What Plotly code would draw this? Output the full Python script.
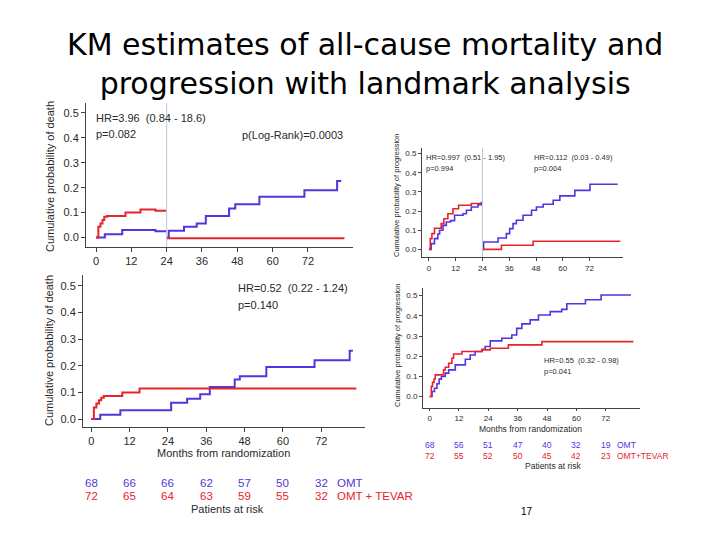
import plotly.graph_objects as go

W, H = 720, 540
BLUE = "#5533e0"
RED = "#e8232b"
AX = "#444444"

# ---------------- data ----------------
months_ticks = [0, 12, 24, 36, 48, 60, 72]
prob_ticks = [0.0, 0.1, 0.2, 0.3, 0.4, 0.5]
landmark = 24

# top-left: mortality, landmark analysis
tl_omt_pre_t = [0, 3, 8.9, 20.2, 24]
tl_omt_pre_v = [0, 0.013, 0.03, 0.025, 0.025]
tl_tevar_pre_t = [0, 0.8, 1.5, 2.2, 2.8, 3.75, 10, 15.1, 20.2, 24]
tl_tevar_pre_v = [0, 0.043, 0.056, 0.07, 0.083, 0.086, 0.1, 0.113, 0.108, 0.108]
tl_omt_post_t = [24, 24.7, 29.9, 34.2, 37.3, 45.2, 47.3, 55.5, 70.8, 81.9, 83.3]
tl_omt_post_v = [0, 0.027, 0.043, 0.056, 0.086, 0.117, 0.134, 0.164, 0.19, 0.227, 0.227]
tl_tevar_post_t = [24, 84.4]
tl_tevar_post_v = [-0.003, -0.003]

# top-right: progression, landmark analysis
tr_omt_pre_t = [0, 1.0, 2.5, 4.0, 4.8, 6.3, 7.8, 9.7, 11.5, 15.3, 16.8, 19, 22, 23.5, 24]
tr_omt_pre_v = [0, 0.03, 0.056, 0.08, 0.1, 0.125, 0.143, 0.15, 0.178, 0.186, 0.204, 0.221, 0.233, 0.244, 0.244]
tr_tevar_pre_t = [0, 0.6, 1.35, 2.5, 5.5, 6.7, 8.5, 10.8, 13.3, 19, 24]
tr_tevar_pre_v = [0, 0.056, 0.082, 0.11, 0.134, 0.16, 0.186, 0.212, 0.23, 0.239, 0.239]
tr_omt_post_t = [24, 24.5, 31, 34.7, 36.2, 37.7, 39.2, 42.2, 46, 48.2, 51.2, 55.7, 58.7, 65.4, 72.2, 84.6]
tr_omt_post_v = [0, 0.038, 0.059, 0.082, 0.108, 0.134, 0.152, 0.178, 0.204, 0.221, 0.235, 0.256, 0.279, 0.308, 0.34, 0.34]
tr_tevar_post_t = [24, 32.5, 46.7, 85.8]
tr_tevar_post_v = [0, 0.021, 0.042, 0.042]

# bottom-left: mortality, whole follow-up
bl_omt_t = [0, 2.8, 9.1, 25, 30, 34.1, 37.1, 44.9, 46.5, 54.8, 69.9, 80.9, 81.9]
bl_omt_v = [0, 0.016, 0.033, 0.061, 0.076, 0.093, 0.12, 0.148, 0.16, 0.195, 0.22, 0.256, 0.256]
bl_tevar_t = [0, 0.8, 1.6, 2.4, 3.1, 3.9, 9.7, 15.1, 83]
bl_tevar_v = [0, 0.043, 0.058, 0.07, 0.08, 0.086, 0.099, 0.114, 0.114]

# bottom-right: progression, whole follow-up
br_omt_t = [0, 1, 2, 3, 3.9, 4.8, 6.4, 7.8, 10.5, 14.6, 16.6, 18.6, 21.4, 22.7, 24.8, 29.5,
            33.6, 35.6, 37.7, 41.1, 44.5, 49.3, 54, 56.1, 63.7, 70.1, 82.3]
br_omt_v = [0, 0.025, 0.041, 0.063, 0.086, 0.099, 0.116, 0.132, 0.157, 0.185, 0.206, 0.223, 0.234,
            0.248, 0.276, 0.289, 0.305, 0.338, 0.36, 0.38, 0.404, 0.421, 0.432, 0.46, 0.48, 0.503, 0.503]
br_tevar_t = [0, 0.7, 1.2, 1.8, 2.3, 5.7, 6.4, 7.8, 9.1, 9.8, 13.2, 21.4, 24.8, 32.2, 45.9, 83.3]
br_tevar_v = [0, 0.05, 0.07, 0.087, 0.107, 0.132, 0.145, 0.165, 0.19, 0.211, 0.223, 0.231, 0.239,
              0.256, 0.272, 0.272]

# patients at risk
risk_left_omt = [68, 66, 66, 62, 57, 50, 32]
risk_left_tevar = [72, 65, 64, 63, 59, 55, 32]
risk_right_omt = [68, 56, 51, 47, 40, 32, 19]
risk_right_tevar = [72, 55, 52, 50, 45, 42, 23]

# ---------------- helpers ----------------
def px_x(p):
    return p / W

def px_y(p):
    return 1 - p / H

fig = go.Figure()

def km(t, v, color, xa, ya, width):
    fig.add_trace(go.Scatter(x=t, y=v, mode="lines", line=dict(color=color, width=width, shape="hv"),
                             xaxis=xa, yaxis=ya, showlegend=False, hoverinfo="skip"))

km(tl_omt_pre_t, tl_omt_pre_v, BLUE, "x", "y", 2)
km(tl_tevar_pre_t, tl_tevar_pre_v, RED, "x", "y", 2)
km(tl_omt_post_t, tl_omt_post_v, BLUE, "x", "y", 2)
km(tl_tevar_post_t, tl_tevar_post_v, RED, "x", "y", 2)

km(tr_omt_pre_t, tr_omt_pre_v, BLUE, "x2", "y2", 1.6)
km(tr_tevar_pre_t, tr_tevar_pre_v, RED, "x2", "y2", 1.6)
km(tr_omt_post_t, tr_omt_post_v, BLUE, "x2", "y2", 1.6)
km(tr_tevar_post_t, tr_tevar_post_v, RED, "x2", "y2", 1.6)

km(bl_omt_t, bl_omt_v, BLUE, "x3", "y3", 2)
km(bl_tevar_t, bl_tevar_v, RED, "x3", "y3", 2)

km(br_omt_t, br_omt_v, BLUE, "x4", "y4", 1.6)
km(br_tevar_t, br_tevar_v, RED, "x4", "y4", 1.6)

FONT = "Liberation Sans"
TXT = "#2a2a2a"

def xax(domain, rng, size, anchor, ticklen=4):
    return dict(domain=domain, range=rng, anchor=anchor, tickvals=months_ticks, showline=True,
                linecolor=AX, linewidth=1, ticks="outside", ticklen=ticklen, tickcolor=AX,
                showgrid=False, zeroline=False, tickfont=dict(family=FONT, size=size, color=TXT))

def yax(domain, rng, size, anchor, ticklen=4):
    return dict(domain=domain, range=rng, anchor=anchor, tickvals=prob_ticks, tickformat=".1f",
                showline=True, linecolor=AX, linewidth=1, ticks="outside", ticklen=ticklen, tickcolor=AX,
                showgrid=False, zeroline=False, tickfont=dict(family=FONT, size=size, color=TXT))

fig.update_layout(
    width=W, height=H, margin=dict(l=0, r=0, t=0, b=0),
    paper_bgcolor="white", plot_bgcolor="white", showlegend=False,
    xaxis=xax([px_x(86), px_x(353)], [-3.4, 87.3], 11, "y"),
    yaxis=yax([px_y(247), px_y(103)], [-0.038, 0.54], 11, "x"),
    xaxis2=xax([px_x(422), px_x(623)], [-3.1, 87], 8, "y2", 3),
    yaxis2=yax([px_y(257), px_y(148)], [-0.040, 0.529], 8, "x2", 3),
    xaxis3=xax([px_x(83), px_x(365)], [-2.6, 85.7], 11, "y3"),
    yaxis3=yax([px_y(427), px_y(275)], [-0.030, 0.54], 11, "x3"),
    xaxis4=xax([px_x(423), px_x(640)], [-2.7, 86], 8, "y4", 2),
    yaxis4=yax([px_y(408), px_y(288)], [-0.057, 0.538], 8, "x4", 3),
)

# landmark lines
for xa, ya in [("x", "y"), ("x2", "y2")]:
    fig.add_shape(type="line", xref=xa, yref=ya + " domain", x0=landmark, x1=landmark, y0=0, y1=1,
                  line=dict(color="#b8c8d8", width=1))

ann = []

def text(x, y, s, size, color=TXT, xanchor="left", xref="paper", angle=0, family=FONT):
    ann.append(dict(x=x, y=y, xref=xref, yref="paper", text=s, showarrow=False, xanchor=xanchor,
                    yanchor="middle", textangle=angle, font=dict(family=family, size=size, color=color)))

# title
text(px_x(365), px_y(64), "KM estimates of all-cause mortality and<br>progression with landmark analysis",
     30, color="black", xanchor="center", family="DejaVu Sans")

# y axis titles
text(px_x(50), px_y(177), "Cumulative probability of death", 11, angle=-90, xanchor="center")
text(px_x(49), px_y(350), "Cumulative probability of death", 11, angle=-90, xanchor="center")
text(px_x(397), px_y(196), "Cumulative probability of progression", 7.5, angle=-90, xanchor="center")
text(px_x(397), px_y(346), "Cumulative probability of progression", 7.5, angle=-90, xanchor="center")

# stats
text(px_x(94), px_y(118), "HR=3.96  (0.84 - 18.6)", 11)
text(px_x(94), px_y(134), "p=0.082", 11)
text(px_x(240), px_y(135), "p(Log-Rank)=0.0003", 11)
text(px_x(236), px_y(288), "HR=0.52  (0.22 - 1.24)", 11)
text(px_x(236), px_y(305), "p=0.140", 11)
text(px_x(424), px_y(158), "HR=0.997  (0.51 - 1.95)", 7.5)
text(px_x(424), px_y(169), "p=0.994", 7.5)
text(px_x(532), px_y(158), "HR=0.112  (0.03 - 0.49)", 7.5)
text(px_x(532), px_y(169), "p=0.004", 7.5)
text(px_x(542), px_y(360), "HR=0.55  (0.32 - 0.98)", 7.5)
text(px_x(542), px_y(371), "p=0.041", 7.5)

# x titles
text(px_x(223), px_y(453), "Months from randomization", 11, xanchor="center")
text(px_x(530), px_y(429), "Months from randomization", 8.5, xanchor="center")

# risk tables
for m, a, b in zip(months_ticks, risk_left_omt, risk_left_tevar):
    text(m, px_y(483), str(a), 11.5, color=BLUE, xanchor="center", xref="x3")
    text(m, px_y(496), str(b), 11.5, color=RED, xanchor="center", xref="x3")
for m, a, b in zip(months_ticks, risk_right_omt, risk_right_tevar):
    text(m, px_y(445), str(a), 8.5, color=BLUE, xanchor="center", xref="x4")
    text(m, px_y(456), str(b), 8.5, color=RED, xanchor="center", xref="x4")
text(px_x(335), px_y(483), "OMT", 11.5, color=BLUE)
text(px_x(335), px_y(496), "OMT + TEVAR", 11.5, color=RED)
text(px_x(615), px_y(445), "OMT", 8.5, color=BLUE)
text(px_x(615), px_y(456), "OMT+TEVAR", 8.5, color=RED)
text(px_x(227), px_y(509), "Patients at risk", 11, xanchor="center")
text(px_x(553), px_y(466), "Patients at risk", 8.5, xanchor="center")

# page number
text(px_x(527), px_y(511), "17", 10, color="black", xanchor="center")

fig.update_layout(annotations=ann)
fig.write_html("out.html", config={"displayModeBar": False},
               post_script="document.body.style.margin='0px';")
